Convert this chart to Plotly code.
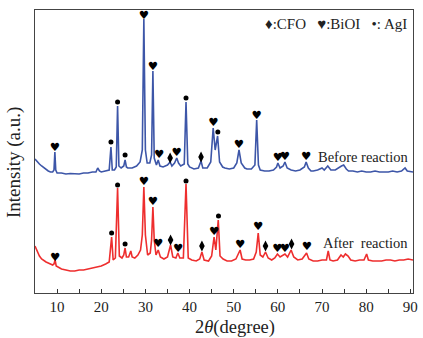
import plotly.graph_objects as go

# ---- data (2theta in degrees, intensity in arbitrary units) ----
before_x = [5.0, 5.5, 6.0, 6.5, 7.0, 7.5, 8.0, 8.5, 9.0, 9.3, 9.5, 9.7, 10.0, 11, 12, 13, 14, 15, 16, 17, 18,
            18.8, 19.2, 19.6, 20, 21, 21.8, 22.2, 22.5, 23.0, 23.4, 23.7, 24.0, 24.5, 25.1, 25.4, 25.7, 26, 27, 28,
            28.8, 29.3, 29.65, 30.0, 30.4, 31.0, 31.4, 31.7, 32.0, 32.5, 32.9, 33.3, 34, 35, 35.6, 36.0, 36.6, 37.1,
            37.5, 38.0, 38.8, 39.2, 39.6, 40, 41, 42, 42.6, 43, 44, 44.8, 45.35, 45.8, 46.35, 46.8, 47.5, 48, 49, 50,
            50.7, 51.2, 51.7, 52.5, 53, 54, 54.8, 55.2, 55.6, 56, 57, 58, 59, 59.7, 60.0, 60.5, 61.2, 61.6, 62.1, 63,
            64, 65, 66, 66.4, 66.9, 67.5, 68, 69, 70, 70.5, 71.3, 72, 73, 74.4, 74.9, 75.5, 76, 77, 78, 79, 80, 81,
            82, 83, 84, 85, 86, 87, 88, 88.8, 89.3, 90.6]
before_y = [134, 131, 129, 127, 125, 123, 122, 121, 121, 123, 141, 123, 120, 120, 119, 119.5, 119, 119, 120, 120, 121,
            121, 125, 122, 121, 122, 123, 146, 123, 123, 126, 187, 127, 125, 127, 133, 126, 125, 125, 127,
            131, 143, 274, 143, 130, 130, 138, 222, 135, 128, 133, 127, 126, 128, 131, 127, 130, 135,
            130, 127, 129, 191, 129, 126, 124, 125, 132, 125, 125, 131, 165, 143, 157, 131, 126, 125, 124, 125,
            130, 143, 130, 125, 124, 124, 128, 173, 128, 123, 122, 122, 123, 126, 130, 125, 127, 131, 125, 123,
            122, 123, 126, 131, 125, 122, 122, 123, 125, 123, 127, 123, 123, 127, 128, 124, 122, 122, 121, 122, 121, 121,
            122, 121, 121, 121, 122, 121, 122, 125, 122, 121]

after_x = [5.0, 5.5, 6.0, 6.5, 7.0, 7.5, 8.0, 8.5, 9.0, 9.3, 9.55, 9.8, 10.5, 11, 12, 13, 14, 15, 16, 17, 18, 19, 20,
           21, 21.8, 22.35, 22.7, 23.2, 23.7, 24.1, 24.7, 25.1, 25.4, 25.7, 26.2, 26.7, 27.0, 27.6, 28.3, 28.9, 29.3,
           29.65, 30.0, 30.5, 31.1, 31.4, 31.7, 32.0, 32.4, 32.9, 33.4, 34.2, 35.0, 35.7, 36.2, 36.9, 37.35, 37.8,
           38.6, 39.2, 39.7, 40.5, 41.5, 42.3, 42.8, 43.3, 44.3, 45.0, 45.55, 45.95, 46.5, 46.9, 47.6, 48.5, 49.5,
           50.5, 51.45, 51.9, 52.7, 53.6, 54.5, 55.1, 55.55, 56.0, 56.6, 57.2, 57.8, 58.6, 59.3, 59.9, 60.5, 61.6,
           62.2, 63.0, 63.6, 64.5, 65.5, 66.5, 67.0, 68, 69, 70, 71.0, 71.4, 71.8, 72.5, 73.5, 74.3, 74.8, 75.3,
           75.9, 76.5, 77.5, 78.5, 79.5, 80.1, 80.5, 81.5, 82.5, 83.5, 84.5, 85.5, 86.5, 87.5, 88.5, 89.5, 90.6]
after_y = [47, 41, 37, 34, 32, 31, 30, 29, 28, 29, 33, 27, 25, 24, 23, 22, 22, 23, 23, 24, 25, 26, 27,
           29, 31, 56, 33, 35, 105, 37, 35, 38, 45, 36, 36, 42, 36, 35, 38, 43, 58,
           106, 58, 38, 40, 53, 86, 53, 38, 43, 36, 34, 36, 48, 36, 35, 40, 35,
           35, 109, 35, 33, 32, 34, 41, 33, 32, 37, 56, 43, 73, 37, 34, 32, 32,
           34, 43, 34, 33, 33, 34, 41, 60, 38, 36, 41, 35, 33, 35, 39, 36, 39,
           36, 43, 36, 33, 34, 40, 34, 32, 32, 33, 33, 42, 33, 32, 33, 38, 36, 39,
           37, 33, 32, 33, 33, 39, 33, 32, 32, 32, 33, 33, 32, 33, 33, 34, 33]

# phase markers (position, height)
before_biooi_x = [9.5, 29.65, 31.7, 33.1, 37.1, 45.4, 51.2, 55.2, 60.0, 61.6, 66.4]
before_biooi_y = [145, 277, 226, 138, 140, 170, 148, 177, 135, 136, 136]
before_cfo_x = [35.6, 42.6]
before_cfo_y = [135, 136]
before_agi_x = [22.2, 23.7, 25.4, 39.2, 46.4]
before_agi_y = [151, 191, 138, 195, 161]

after_biooi_x = [9.55, 29.65, 31.7, 32.9, 37.4, 45.55, 51.45, 55.55, 59.9, 61.6, 66.6]
after_biooi_y = [35, 111, 91, 49, 44, 61, 48, 66, 44, 44, 46]
after_cfo_x = [35.7, 42.8, 57.2, 63.1]
after_cfo_y = [53, 47, 47, 49]
after_agi_x = [22.35, 23.7, 25.4, 39.2, 46.55]
after_agi_y = [60, 108, 49, 112, 77]

x_ticks = [10, 20, 30, 40, 50, 60, 70, 80, 90]

BLUE = "#3d56a8"
RED = "#ee2e2e"
SERIF = "Liberation Serif, Times New Roman, serif"

fig = go.Figure()
fig.add_trace(go.Scatter(x=before_x, y=before_y, mode="lines", line=dict(color=BLUE, width=1.6),
                         showlegend=False, hoverinfo="skip"))
fig.add_trace(go.Scatter(x=after_x, y=after_y, mode="lines", line=dict(color=RED, width=1.6),
                         showlegend=False, hoverinfo="skip"))

for hx, hy in [(before_biooi_x, before_biooi_y), (after_biooi_x, after_biooi_y)]:
    fig.add_trace(go.Scatter(x=hx, y=hy, mode="text", text=["\u2665"] * len(hx),
                             textposition="middle center",
                             textfont=dict(family="DejaVu Sans", size=11.5, color="black"),
                             showlegend=False, hoverinfo="skip"))
for dx, dy in [(before_cfo_x, before_cfo_y), (after_cfo_x, after_cfo_y)]:
    fig.add_trace(go.Scatter(x=dx, y=dy, mode="markers",
                             marker=dict(symbol="diamond-tall", size=8, color="black"),
                             showlegend=False, hoverinfo="skip"))
for cx, cy in [(before_agi_x, before_agi_y), (after_agi_x, after_agi_y)]:
    fig.add_trace(go.Scatter(x=cx, y=cy, mode="markers",
                             marker=dict(symbol="circle", size=5, color="black"),
                             showlegend=False, hoverinfo="skip"))

fig.add_annotation(x=90.2, y=136, xref="x", yref="y", text="Before reaction", showarrow=False,
                   xanchor="right", yanchor="middle", font=dict(family=SERIF, size=14.5, color="#222"))
fig.add_annotation(x=90.0, y=50, xref="x", yref="y", text="After\u00a0 reaction", showarrow=False,
                   xanchor="right", yanchor="middle", font=dict(family=SERIF, size=14.5, color="#222"))
fig.add_annotation(x=89.8, y=269, xref="x", yref="y",
                   text="\u2666:CFO\u00a0\u00a0 \u2665:BiOI\u00a0\u00a0 \u2022: AgI", showarrow=False,
                   xanchor="right", yanchor="middle", font=dict(family=SERIF, size=15, color="#222"))

fig.add_annotation(x=0.529, y=-0.121, xref="paper", yref="paper", text="2<i>\u03b8</i>(degree)",
                   showarrow=False, xanchor="center", yanchor="middle",
                   font=dict(family=SERIF, size=18.5, color="#222"))
fig.add_annotation(x=-0.055, y=0.46, xref="paper", yref="paper", text="Intensity (a.u.)",
                   showarrow=False, textangle=-90, xanchor="center", yanchor="middle",
                   font=dict(family=SERIF, size=19, color="#222"))

fig.update_xaxes(range=[5, 90.6], tickmode="array", tickvals=x_ticks, ticks="inside", ticklen=4,
                 tickcolor="#333", showline=True, linecolor="#444", linewidth=1.2, mirror=True,
                 showgrid=False, zeroline=False,
                 minor=dict(tickmode="array", tickvals=[15, 25, 35, 45, 55, 65, 75, 85],
                            ticks="inside", ticklen=4, tickcolor="#333"),
                 tickfont=dict(family=SERIF, size=15, color="#222"))
fig.update_yaxes(range=[0, 283], showticklabels=False, ticks="", showline=True, linecolor="#444",
                 linewidth=1.2, mirror=True, showgrid=False, zeroline=False)

fig.update_layout(width=423, height=338, margin=dict(l=35, r=5, t=10, b=45),
                  plot_bgcolor="white", paper_bgcolor="white", autosize=False)

fig.write_html(
    "out.html",
    config={"displayModeBar": False, "responsive": False, "staticPlot": True},
    post_script=("document.documentElement.style.margin='0';"
                 "document.body.style.margin='0';document.body.style.padding='0';"
                 "document.body.style.overflow='hidden';"
                 "document.documentElement.style.overflow='hidden';"),
)
